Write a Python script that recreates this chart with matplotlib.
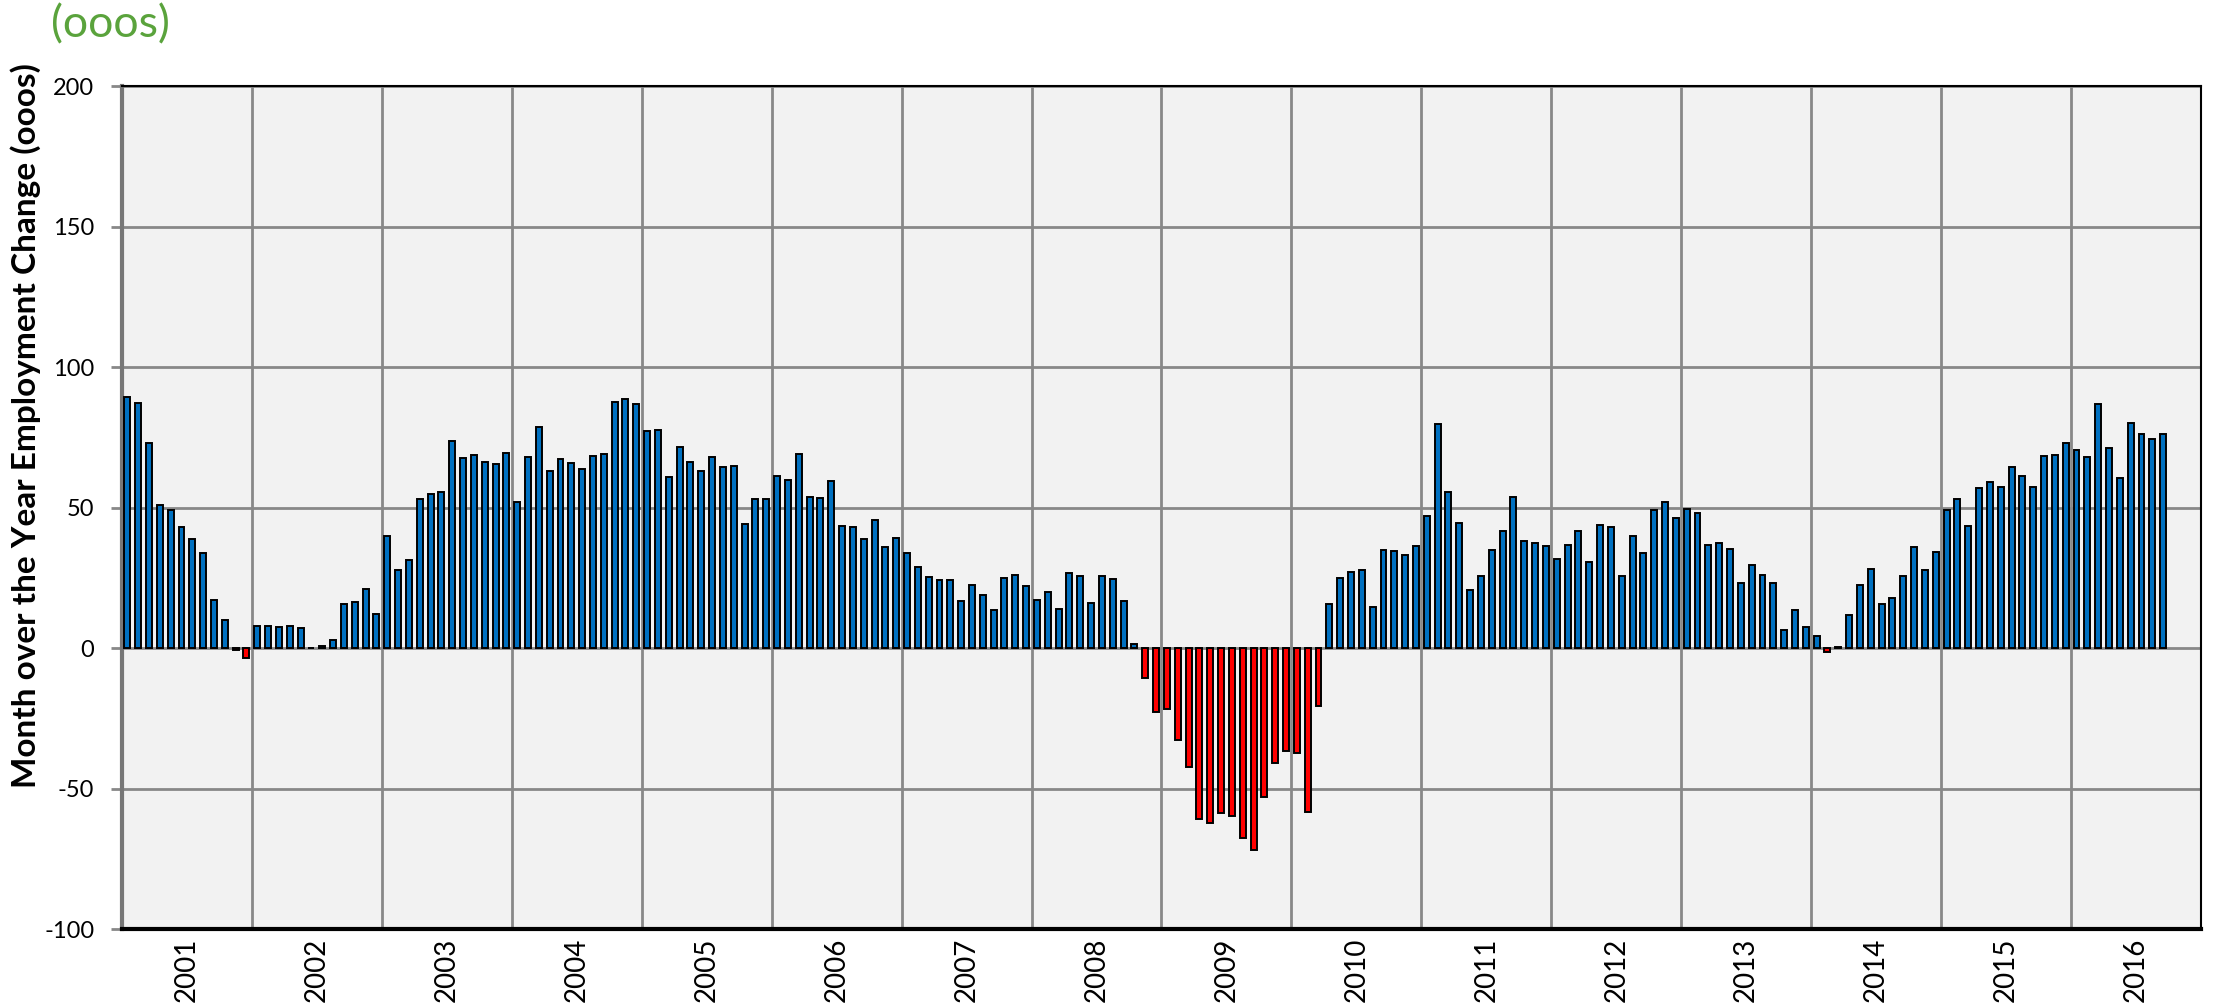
import matplotlib
matplotlib.use("Agg")
import matplotlib.pyplot as plt
import numpy as np

# month over the year employment change (000s), Jan 2001 - Sep 2016
values = [
    89.3, 87.3, 72.9, 51.0, 49.0, 43.2, 38.8, 33.7, 17.0, 10.1, -0.8, -3.6,   # 2001
    8.0, 8.0, 7.6, 8.0, 7.1, 0.1, 0.6, 2.9, 15.7, 16.3, 20.9, 12.1,           # 2002
    40.0, 27.7, 31.4, 52.9, 54.8, 55.6, 73.5, 67.5, 68.6, 66.1, 65.4, 69.3,   # 2003
    52.1, 67.9, 78.8, 63.1, 67.1, 66.0, 63.8, 68.3, 69.0, 87.4, 88.5, 86.7,   # 2004
    77.1, 77.7, 60.7, 71.7, 66.3, 63.1, 67.9, 64.3, 64.6, 44.0, 53.0, 53.2,   # 2005
    61.2, 59.9, 69.0, 53.6, 53.3, 59.5, 43.6, 43.1, 38.8, 45.7, 36.0, 39.2,   # 2006
    33.8, 28.9, 25.2, 24.3, 24.3, 16.8, 22.4, 19.0, 13.7, 24.8, 26.1, 22.0,   # 2007
    17.1, 19.9, 14.0, 26.8, 25.7, 16.1, 25.8, 24.5, 16.7, 1.3, -10.6, -22.6,  # 2008
    -21.7, -32.9, -42.4, -60.7, -62.1, -58.7, -59.9, -67.7, -71.8, -52.9, -40.9, -36.8,  # 2009
    -37.3, -58.5, -20.7, 15.6, 24.8, 26.9, 27.9, 14.6, 34.8, 34.5, 33.0, 36.4,  # 2010
    47.0, 79.6, 55.6, 44.4, 20.7, 25.6, 34.8, 41.5, 53.6, 38.2, 37.5, 36.3,   # 2011
    31.7, 36.5, 41.5, 30.6, 43.9, 43.1, 25.7, 40.0, 33.9, 49.0, 52.1, 46.2,   # 2012
    49.3, 48.0, 36.8, 37.3, 35.2, 23.3, 29.4, 26.0, 23.2, 6.4, 13.7, 7.6,     # 2013
    4.2, -1.4, 0.2, 11.9, 22.4, 28.3, 15.5, 17.7, 25.6, 36.0, 27.9, 34.0,     # 2014
    49.0, 53.1, 43.6, 57.0, 59.0, 57.4, 64.5, 61.2, 57.3, 68.2, 68.6, 72.9,   # 2015
    70.4, 67.9, 86.7, 71.2, 60.5, 80.0, 76.1, 74.4, 76.1,                     # 2016
]
years = [str(y) for y in range(2001, 2017)]
y_ticks = [-100, -50, 0, 50, 100, 150, 200]

plt.rcParams['font.family'] = ['Lato', 'DejaVu Sans']

fig = plt.figure(figsize=(22.13, 10.06), dpi=100)
ax = fig.add_axes([0.0551, 0.0765, 0.9395, 0.838])
ax.set_facecolor("#F2F2F2")

x = np.arange(len(values))
vals = np.array(values)
colors = np.where(vals < 0, "#FF0000", "#0070C0")
ax.bar(x, vals, width=0.55, color=colors, edgecolor="black", linewidth=1.4, zorder=3)

n_months = len(years) * 12
ax.set_xlim(-0.5, n_months - 0.5)
ax.set_ylim(-100, 200)

# year labels centred in each year band, gridlines between years
ax.set_xticks(np.arange(len(years)) * 12 + 5.5)
ax.set_xticklabels(years, rotation=90, fontsize=20)
ax.set_xticks(np.arange(1, len(years)) * 12 - 0.5, minor=True)
ax.tick_params(axis='x', which='both', length=0, pad=6)
ax.grid(axis='x', which='minor', color="#888888", linewidth=2, zorder=1)

ax.set_yticks(y_ticks)
ax.set_yticklabels([str(v) for v in y_ticks], fontsize=17)
ax.tick_params(axis='y', length=8, width=2, color="#888888", pad=12)
ax.grid(axis='y', which='major', color="#888888", linewidth=2, zorder=1)

ax.spines['left'].set_color("#777777")
ax.spines['left'].set_linewidth(3)
ax.spines['bottom'].set_color("black")
ax.spines['bottom'].set_linewidth(3)
ax.spines['top'].set_color("black")
ax.spines['top'].set_linewidth(1.5)
ax.spines['right'].set_color("black")
ax.spines['right'].set_linewidth(1.5)

ax.set_ylabel("Month over the Year Employment Change (ooos)", fontsize=24,
              fontweight='bold')
ax.yaxis.set_label_coords(-0.039, 0.597)

fig.text(0.023, 0.996, "(ooos)", color="#5AA33C", fontsize=32, va='top', ha='left')

fig.savefig("out.png", dpi=100)
